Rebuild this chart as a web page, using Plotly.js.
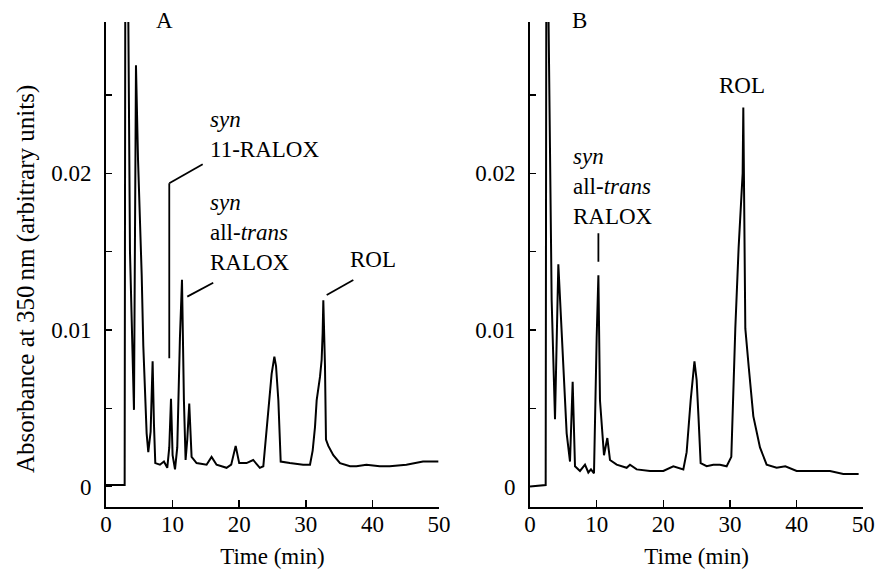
<!DOCTYPE html>
<html>
<head>
<meta charset="utf-8">
<script src="https://cdn.plot.ly/plotly-3.0.1.min.js"></script>
<style>html,body{margin:0;padding:0;background:#fff;}#chart{width:892px;height:571px;}</style>
</head>
<body>
<div id="chart"></div>
<script>
// Panel A: time (min) and absorbance at 350 nm
const timeA = [0, 2.8, 2.9, 3.3, 3.6, 4.2, 4.5, 4.8, 5.36, 5.6, 6.1, 6.35, 6.7, 7.0, 7.2, 7.4, 8.1, 8.7, 9.2, 9.5, 9.76, 10.0, 10.36, 10.7, 11.1, 11.41, 11.7, 11.95, 12.2, 12.5, 12.85, 13.6, 15.1, 15.85, 16.6, 18.1, 18.8, 19.47, 20.0, 21.1, 22.1, 23.1, 23.62, 24.37, 24.87, 25.28, 25.53, 25.88, 26.13, 26.23, 27.6, 29.6, 30.63, 31.03, 31.38, 31.63, 32.13, 32.38, 32.53, 32.63, 32.88, 33.03, 33.38, 34.13, 35.14, 36.64, 37.6, 39.1, 41.1, 42.6, 45.1, 47.6, 49.9];
const absA = [0.0001, 0.0001, 0.033, 0.033, 0.015, 0.0049, 0.0269, 0.021, 0.0135, 0.0090, 0.0034, 0.0022, 0.0035, 0.0080, 0.0040, 0.0015, 0.0014, 0.0016, 0.0012, 0.0025, 0.0056, 0.0020, 0.0011, 0.0025, 0.0095, 0.0132, 0.0055, 0.0017, 0.0030, 0.0053, 0.0019, 0.0015, 0.0014, 0.0019, 0.0014, 0.0012, 0.0014, 0.0026, 0.0015, 0.0015, 0.0017, 0.0012, 0.0013, 0.0051, 0.0072, 0.0083, 0.0077, 0.0055, 0.0030, 0.0016, 0.0015, 0.0014, 0.0014, 0.0023, 0.0038, 0.0055, 0.0070, 0.0081, 0.0098, 0.0119, 0.0077, 0.0030, 0.0026, 0.0020, 0.0015, 0.0013, 0.0013, 0.0014, 0.0013, 0.0013, 0.0014, 0.0016, 0.0016];

// Panel B
const timeB = [0, 2.35, 2.45, 2.7, 3.25, 3.75, 4.25, 4.5, 5.0, 5.5, 6.0, 6.4, 6.75, 7.5, 8.25, 8.75, 9.15, 9.6, 10.0, 10.26, 10.5, 11.1, 11.6, 12.0, 13.0, 14.5, 15.0, 16.0, 18.0, 20.0, 21.5, 23.0, 23.5, 24.1, 24.67, 25.0, 25.27, 25.6, 26.5, 27.5, 28.5, 29.5, 30.2, 30.8, 31.3, 31.9, 32.0, 32.3, 32.8, 33.5, 34.5, 35.5, 37.0, 38.3, 40.0, 42.5, 45.0, 47.0, 49.3];
const absB = [0.0000, 0.0001, 0.033, 0.033, 0.0119, 0.0043, 0.0142, 0.0119, 0.0077, 0.0034, 0.0016, 0.0067, 0.0013, 0.0010, 0.0014, 0.0009, 0.0011, 0.00085, 0.0095, 0.0135, 0.0055, 0.0020, 0.0031, 0.0017, 0.0014, 0.0012, 0.0014, 0.0011, 0.0010, 0.0010, 0.0013, 0.0011, 0.0022, 0.0055, 0.0080, 0.0068, 0.0045, 0.0015, 0.0013, 0.0014, 0.0014, 0.0013, 0.0019, 0.0101, 0.0153, 0.0200, 0.0242, 0.0101, 0.0077, 0.0045, 0.0025, 0.0014, 0.0012, 0.0013, 0.0010, 0.0010, 0.0010, 0.0008, 0.0008];

const xTickVals = [0, 10, 20, 30, 40, 50];
const xTickText = ['0', '10', '20', '30', '40', '50'];
const yTickVals = [0, 0.005, 0.01, 0.015, 0.02, 0.025];
const yTickText = ['0', '', '0.01', '', '0.02', ''];
const yTitle = 'Absorbance at 350\u2009nm (arbitrary units)';
const xTitle = 'Time (min)';

const W = 892, H = 571;
const PX = x => x / W;
const PY = y => 1 - y / H;
const FONT = 'Liberation Serif';

const traces = [
  {x: timeA, y: absA, xaxis: 'x', yaxis: 'y', mode: 'lines', line: {color: '#000', width: 2}, hoverinfo: 'skip'},
  {x: timeB, y: absB, xaxis: 'x2', yaxis: 'y2', mode: 'lines', line: {color: '#000', width: 2}, hoverinfo: 'skip'}
];

function xAx(domain, anchor) {
  return {
    domain: domain, anchor: anchor, range: [0, 50],
    tickmode: 'array', tickvals: xTickVals, ticktext: xTickText,
    ticks: 'inside', ticklen: 7, tickwidth: 1.5, tickcolor: '#000',
    showline: true, linewidth: 2, linecolor: '#000',
    showgrid: false, zeroline: false, ticklabelstandoff: -4,
    tickfont: {family: FONT, size: 23, color: '#000'},
    title: {text: xTitle, font: {family: FONT, size: 23, color: '#000'}, standoff: 12}
  };
}
function yAx(domain, anchor) {
  return {
    domain: domain, anchor: anchor, range: [-0.001284, 0.029668],
    tickmode: 'array', tickvals: yTickVals, ticktext: yTickText,
    ticks: 'inside', ticklen: 6, tickwidth: 1.5, tickcolor: '#000',
    showline: true, linewidth: 2, linecolor: '#000',
    showgrid: false, zeroline: false, ticklabelstandoff: 8,
    tickfont: {family: FONT, size: 23, color: '#000'}
  };
}

const yDom = [PY(506.7), PY(22)];
const ann = (text, x, y, xa) => ({text: text, xref: 'paper', yref: 'paper', x: PX(x), y: PY(y), xanchor: xa || 'left', yanchor: 'middle', align: 'left', showarrow: false, font: {family: FONT, size: 23, color: '#000'}});
const layout = {
  width: W, height: H,
  margin: {l: 0, r: 0, t: 0, b: 0},
  paper_bgcolor: '#fff', plot_bgcolor: '#fff',
  showlegend: false,
  font: {family: FONT, size: 23, color: '#000'},
  xaxis: xAx([PX(106), PX(439)], 'y'),
  yaxis: yAx(yDom, 'x'),
  xaxis2: xAx([PX(530), PX(863.3)], 'y2'),
  yaxis2: yAx(yDom, 'x2'),
  annotations: [
    {text: yTitle, xref: 'paper', yref: 'paper', x: PX(26), y: PY(279), xanchor: 'center', yanchor: 'middle', textangle: -90, showarrow: false, font: {family: FONT, size: 25, color: '#000'}},
    ann('A', 164, 20, 'center'),
    ann('B', 579, 20, 'center'),
    ann('<i>syn</i><br>11-RALOX', 208, 134),
    ann('<i>syn</i><br>all-<i>trans</i><br>RALOX', 208, 232),
    ann('ROL', 348, 260),
    ann('<i>syn</i><br>all-<i>trans</i><br>RALOX', 571, 186),
    ann('ROL', 741.7, 85, 'center')
  ],
  shapes: [
    {type: 'line', xref: 'x', yref: 'y', x0: 9.5, y0: 0.00819, x1: 9.5, y1: 0.01937, line: {color: '#000', width: 1.8}},
    {type: 'line', xref: 'x', yref: 'y', x0: 9.5, y0: 0.01937, x1: 14.52, y1: 0.02058, line: {color: '#000', width: 1.8}},
    {type: 'line', xref: 'x', yref: 'y', x0: 12.2, y0: 0.01213, x1: 16.1, y1: 0.01302, line: {color: '#000', width: 1.8}},
    {type: 'line', xref: 'x', yref: 'y', x0: 33.14, y0: 0.01224, x1: 37.13, y1: 0.01319, line: {color: '#000', width: 1.8}},
    {type: 'line', xref: 'x2', yref: 'y2', x0: 10.26, y0: 0.01436, x1: 10.26, y1: 0.01618, line: {color: '#000', width: 1.8}}
  ]
};

Plotly.newPlot('chart', traces, layout, {staticPlot: true, displayModeBar: false});
</script>
</body>
</html>
